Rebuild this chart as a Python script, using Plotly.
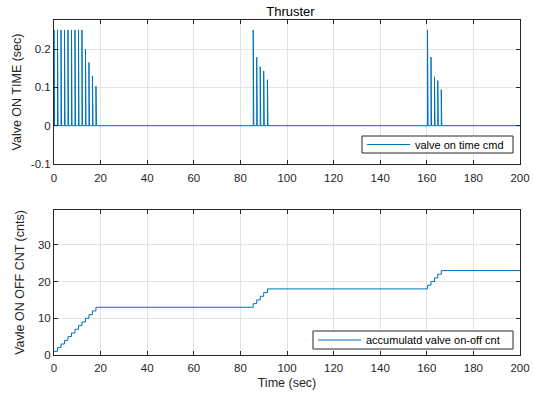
import plotly.graph_objects as go

# ---- data ----
pulse_times = [0, 1.5, 3, 4.5, 6, 7.5, 9, 10.5, 12, 13.5, 15, 16.5, 18,
               85.5, 87, 88.5, 90, 91.6,
               160.3, 161.8, 163.3, 164.7, 166.2]
pulse_heights = [0.25, 0.25, 0.25, 0.25, 0.25, 0.25, 0.25, 0.25, 0.25,
                 0.2, 0.165, 0.13, 0.103,
                 0.25, 0.179, 0.154, 0.143, 0.12,
                 0.25, 0.179, 0.128, 0.118, 0.094]
counts = [1, 2, 3, 4, 5, 6, 7, 8, 9, 10, 11, 12, 13,
          14, 15, 16, 17, 18,
          19, 20, 21, 22, 23]
t_end = 200

x_ticks = [0, 20, 40, 60, 80, 100, 120, 140, 160, 180, 200]
top_yticks = [-0.1, 0, 0.1, 0.2]
top_yticklabels = ["-0.1", "0", "0.1", "0.2"]
bot_yticks = [0, 10, 20, 30]
legend_names = ["valve on time cmd", "accumulatd valve on-off cnt"]

# ---- build traces ----
pw = 0.25
vx, vy = [0], [0]
for t, h in zip(pulse_times, pulse_heights):
    vx += [t, t, t + pw, t + pw]
    vy += [0, h, h, 0]
vx.append(t_end)
vy.append(0)

cx = list(pulse_times) + [t_end]
cy = list(counts) + [counts[-1]]

blue = "#0072BD"
fig = go.Figure()
fig.add_trace(go.Scatter(x=vx, y=vy, mode="lines", line=dict(color=blue, width=1),
                         name=legend_names[0], xaxis="x", yaxis="y", showlegend=False))
fig.add_trace(go.Scatter(x=cx, y=cy, mode="lines", line=dict(color=blue, width=1, shape="hv"),
                         name=legend_names[1], xaxis="x2", yaxis="y2", showlegend=False))

W, H = 533, 394
L, R, T, B = 54, 13, 20, 39
pw_px, ph_px = W - L - R, H - T - B


def px(xp):
    return (xp - L) / pw_px


def py(yp):
    return (H - B - yp) / ph_px


axcol = "#262626"
grid = "#e3e3e3"
FAM = "Liberation Sans, Arial, sans-serif"
tickfont = dict(family=FAM, size=11.5, color=axcol)
titlefont = dict(family=FAM, size=12.5, color=axcol)
common = dict(showline=True, linecolor=axcol, linewidth=1, mirror="ticks",
              ticks="inside", ticklen=4, tickcolor=axcol, showgrid=True,
              gridcolor=grid, gridwidth=1, zeroline=False, tickfont=tickfont,
              automargin=False)

# manual MATLAB-style legends (box, sample line, text)
legend_boxes = [(362, 513, 136, 153), (313, 513, 331, 349)]
shapes, annots = [], []
for name, (x0, x1, y0, y1) in zip(legend_names, legend_boxes):
    shapes.append(dict(type="rect", xref="paper", yref="paper",
                       x0=px(x0), x1=px(x1), y0=py(y1), y1=py(y0),
                       line=dict(color=axcol, width=1), fillcolor="white", layer="above"))
    ym = py((y0 + y1) / 2)
    shapes.append(dict(type="line", xref="paper", yref="paper",
                       x0=px(x0 + 5), x1=px(x0 + 48), y0=ym, y1=ym,
                       line=dict(color=blue, width=1), layer="above"))
    annots.append(dict(text=name, xref="paper", yref="paper", x=px(x0 + 51), y=ym,
                       xanchor="left", yanchor="middle", showarrow=False,
                       font=dict(family=FAM, size=11, color="#000")))

fig.update_layout(
    width=W, height=H,
    margin=dict(l=L, r=R, t=T, b=B, autoexpand=False),
    paper_bgcolor="white", plot_bgcolor="white",
    font=tickfont,
    showlegend=False,
    shapes=shapes, annotations=annots,
    title=dict(text="Thruster", x=0.545, xanchor="center", y=0.972, yanchor="middle",
               font=dict(family=FAM, size=13, color="#000")),
    xaxis=dict(domain=[0, 1], range=[0, 200], tickvals=x_ticks, anchor="y",
               ticklabelstandoff=3, **common),
    yaxis=dict(domain=[py(164), 1], range=[-0.1, 0.276], tickvals=top_yticks,
               ticktext=top_yticklabels, anchor="x",
               title=dict(text="Valve ON TIME (sec)", font=titlefont, standoff=6), **common),
    xaxis2=dict(domain=[0, 1], range=[0, 200], tickvals=x_ticks, anchor="y2",
                ticklabelstandoff=2,
                title=dict(text="Time (sec)", font=titlefont, standoff=5), **common),
    yaxis2=dict(domain=[0, py(210)], range=[0, 39.5], tickvals=bot_yticks, anchor="x2",
                title=dict(text="Vavle ON OFF CNT (cnts)", font=titlefont, standoff=10), **common),
)

fig.write_html("out.html")
